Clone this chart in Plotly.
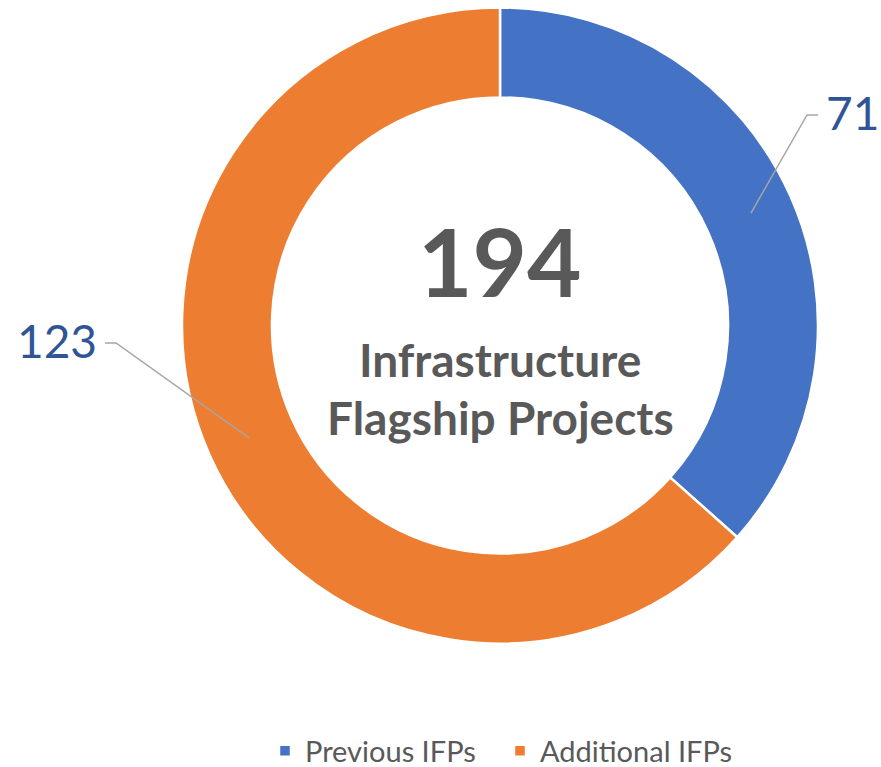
import math
import plotly.graph_objects as go

categories = ["Previous IFPs", "Additional IFPs"]
values = [71, 123]
total_label = "194"
center_text = ["Infrastructure", "Flagship Projects"]
colors = ["#4472C4", "#ED7D31"]

W, H = 881, 767
CX, CY, R_OUT, HOLE = 500, 325.5, 318, 0.717
R_IN = R_OUT * HOLE
FONT = "Lato"

def px(x):
    return x / W

def py(y):
    return 1 - y / H

fig = go.Figure(go.Pie(
    labels=categories, values=values, hole=HOLE, sort=False,
    direction="clockwise", rotation=0,
    marker=dict(colors=colors, line=dict(color="white", width=2.5)),
    textinfo="none", hoverinfo="label+value",
    domain=dict(x=[px(CX - R_OUT), px(CX + R_OUT)],
                y=[py(CY + R_OUT), py(CY - R_OUT)]),
))

# leader lines + value labels (elbow/text anchors are layout positions)
label_layout = [
    dict(elbow=(807, 115), end=(818, 115), text_x=824, anchor="left"),
    dict(elbow=(116, 343), end=(105, 343), text_x=99, anchor="right"),
]
shapes, annotations = [], []
tot = sum(values)
cum = 0
for v, lay in zip(values, label_layout):
    mid = (cum + v / 2) / tot * 2 * math.pi
    cum += v
    rr = (R_OUT + R_IN) / 2 + 2
    sx = CX + rr * math.sin(mid)
    sy = CY - rr * math.cos(mid)
    ex, ey = lay["elbow"]
    tx, ty = lay["end"]
    path = f"M {px(sx)},{py(sy)} L {px(ex)},{py(ey)} L {px(tx)},{py(ty)}"
    shapes.append(dict(type="path", xref="paper", yref="paper", path=path,
                       line=dict(color="#A6A6A6", width=1.5)))
    annotations.append(dict(x=px(lay["text_x"]), y=py(ty - 2), xref="paper", yref="paper",
                            text=str(v), showarrow=False, xanchor=lay["anchor"], yanchor="middle",
                            font=dict(family=FONT, size=46, color="#2F5597")))

annotations.append(dict(x=px(CX), y=py(260), xref="paper", yref="paper", text=f"<b>{total_label}</b>",
                        showarrow=False, xanchor="center", yanchor="middle",
                        font=dict(family=FONT, size=94, color="#595959")))
annotations.append(dict(x=px(CX), y=py(360), xref="paper", yref="paper", text=f"<b>{center_text[0]}</b>",
                        showarrow=False, xanchor="center", yanchor="middle",
                        font=dict(family=FONT, size=46, color="#595959")))
annotations.append(dict(x=px(CX), y=py(417), xref="paper", yref="paper", text=f"<b>{center_text[1]}</b>",
                        showarrow=False, xanchor="center", yanchor="middle",
                        font=dict(family=FONT, size=46, color="#595959")))

fig.update_layout(
    width=W, height=H, margin=dict(l=0, r=0, t=0, b=0, autoexpand=False),
    paper_bgcolor="white", plot_bgcolor="white",
    shapes=shapes, annotations=annotations,
    showlegend=True,
    legend=dict(orientation="h", x=px(265), xanchor="left",
                yref="container", y=py(751), yanchor="middle",
                font=dict(family=FONT, size=29, color="#595959"), itemwidth=30,
                entrywidth=190, entrywidthmode="pixels",
                traceorder="normal"),
)
fig.write_html("out.html", config={"displayModeBar": False},
               post_script="document.body.style.margin='0';document.body.style.overflow='hidden';")
